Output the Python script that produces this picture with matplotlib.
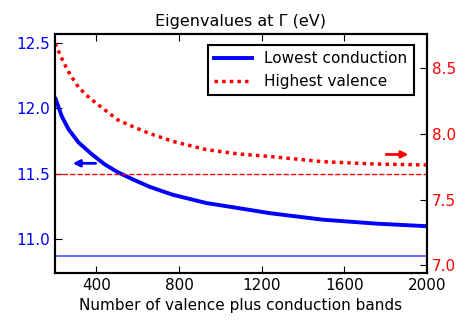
import numpy as np
import matplotlib
matplotlib.use("Agg")
import matplotlib.pyplot as plt

# number of bands used in the calculation
nbands_c = [203, 232, 265, 313, 377, 442, 506, 587, 659, 770, 932, 1093,
            1238, 1496, 1754, 2000]
# lowest conduction eigenvalue (left axis, eV)
cond = [12.07, 11.94, 11.84, 11.74, 11.65, 11.57, 11.51, 11.45, 11.40,
        11.34, 11.277, 11.237, 11.20, 11.15, 11.12, 11.10]
# highest valence eigenvalue (right axis, eV)
nbands_v = [200, 240, 272, 313, 361, 426, 506, 587, 659, 770, 932, 1093,
            1238, 1496, 1754, 2000]
val = [8.69, 8.55, 8.455, 8.358, 8.283, 8.202, 8.106, 8.05, 8.004, 7.945,
       7.882, 7.848, 7.83, 7.79, 7.772, 7.765]

cond_conv = 10.873
val_conv = 7.70

fig = plt.figure(figsize=(4.71, 3.31), dpi=100)
ax1 = fig.add_axes([0.117, 0.176, 0.789, 0.721])
ax2 = ax1.twinx()

l1, = ax1.plot(nbands_c, cond, color='b', lw=2.8, label='Lowest conduction')
ax1.axhline(cond_conv, color='#4d4dff', lw=1.2)
l2, = ax2.plot(nbands_v, val, color='r', lw=2.5, ls=(0, (1, 1.2)),
               label='Highest valence')
ax2.axhline(val_conv, color='r', lw=1, ls='--')

ax1.set_xlim(200, 2000)
ax1.set_ylim(10.745, 12.566)
ax2.set_ylim(6.944, 8.762)
ax1.set_xticks([400, 800, 1200, 1600, 2000])
ax1.set_yticks([11.0, 11.5, 12.0, 12.5])
ax2.set_yticks([7.0, 7.5, 8.0, 8.5])

ax1.tick_params(axis='x', direction='in', top=True, length=5, labelsize=11)
ax1.tick_params(axis='y', direction='in', length=5, labelsize=11, labelcolor='b')
ax2.tick_params(axis='y', direction='in', length=5, labelsize=11, labelcolor='r')
for ax in (ax1, ax2):
    for s in ax.spines.values():
        s.set_linewidth(1.5)

ax1.annotate('', xy=(272, 11.58), xytext=(410, 11.58),
             arrowprops=dict(arrowstyle='-|>', color='b', lw=2, mutation_scale=10))
ax2.annotate('', xy=(1925, 7.845), xytext=(1790, 7.845),
             arrowprops=dict(arrowstyle='-|>', color='r', lw=2, mutation_scale=10))

ax1.set_title('Eigenvalues at Γ (eV)', fontsize=11.5)
ax1.set_xlabel('Number of valence plus conduction bands', fontsize=11)

leg = ax2.legend([l1, l2], ['Lowest conduction', 'Highest valence'],
                 loc='upper right', fontsize=11, fancybox=False,
                 framealpha=1, edgecolor='k', handlelength=2.5,
                 bbox_to_anchor=(0.985, 0.985))
leg.get_frame().set_linewidth(1.5)

fig.savefig('out.png', dpi=100)
